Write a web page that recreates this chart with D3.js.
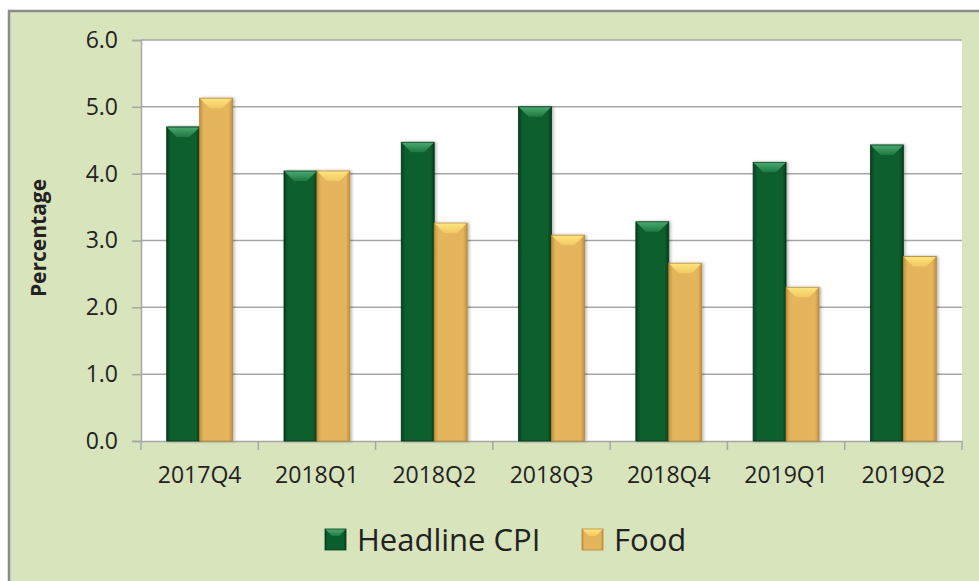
<!DOCTYPE html>
<html>
<head>
  <meta charset="UTF-8">
  <title>Headline CPI vs Food</title>
  <style>
    body { margin: 0; background: #fff; }
    svg { display: block; }
    text { font-family: "Open Sans", sans-serif; fill: #222; }
  </style>
  <script src="https://d3js.org/d3.v7.min.js"></script>
</head>
<body>
  <svg id="chart" width="979" height="581"></svg>
  <script>
    const quarters = ['2017Q4', '2018Q1', '2018Q2', '2018Q3', '2018Q4', '2019Q1', '2019Q2'];
    const headlineCPI = [4.70, 4.04, 4.47, 5.00, 3.28, 4.17, 4.43];
    const food = [5.13, 4.04, 3.26, 3.08, 2.66, 2.30, 2.76];
    const yTicks = [0, 1, 2, 3, 4, 5, 6];
    const seriesNames = ['Headline CPI', 'Food'];

    const W = 979, H = 581;
    const plot = { left: 141, right: 962, top: 40, bottom: 441 };

    const svg = d3.select('#chart');

    // frame
    svg.append('rect')
      .attr('x', 9).attr('y', 11)
      .attr('width', W + 20).attr('height', H + 20)
      .attr('fill', '#d8e4bc')
      .attr('stroke', '#8c8c8c')
      .attr('stroke-width', 2.5);

    svg.append('rect')
      .attr('x', plot.left).attr('y', plot.top)
      .attr('width', plot.right - plot.left).attr('height', plot.bottom - plot.top)
      .attr('fill', '#fff');

    const x = d3.scaleBand().domain(quarters).range([plot.left, plot.right]);
    const xInner = d3.scaleBand().domain(seriesNames).range([0, x.bandwidth()]).paddingOuter(0.78).paddingInner(0);
    const y = d3.scaleLinear().domain([0, 6]).range([plot.bottom, plot.top]);

    // gridlines
    svg.append('g')
      .selectAll('line')
      .data(yTicks.slice(1))
      .join('line')
      .attr('x1', plot.left).attr('x2', plot.right)
      .attr('y1', d => y(d)).attr('y2', d => y(d))
      .attr('stroke', '#a6a6a6')
      .attr('stroke-width', 1.5);

    // y axis
    const yAxis = svg.append('g')
      .attr('transform', `translate(${plot.left},0)`)
      .call(d3.axisLeft(y).tickValues(yTicks).tickFormat(d3.format('.1f')).tickSize(9).tickPadding(14));
    yAxis.select('.domain').attr('stroke', '#a6a6a6').attr('stroke-width', 1.5);
    yAxis.selectAll('.tick line').attr('stroke', '#a6a6a6').attr('stroke-width', 1.5);
    yAxis.selectAll('.tick text').style('font-size', '23px').attr('fill', '#222');

    // x axis
    const xAxis = svg.append('g')
      .attr('transform', `translate(0,${plot.bottom})`)
      .call(d3.axisBottom(x).tickSize(0).tickPadding(26));
    xAxis.select('.domain').attr('stroke', '#a6a6a6').attr('stroke-width', 1.5);
    xAxis.selectAll('.tick text').style('font-size', '23px').attr('fill', '#222');
    xAxis.append('g')
      .selectAll('line')
      .data(quarters.concat(['end']))
      .join('line')
      .attr('x1', (d, i) => plot.left + i * x.step())
      .attr('x2', (d, i) => plot.left + i * x.step())
      .attr('y1', 0).attr('y2', 9)
      .attr('stroke', '#a6a6a6')
      .attr('stroke-width', 1.5);

    // gradients
    const defs = svg.append('defs');
    const styles = {
      'Headline CPI': { side: ['#063d1c', '#0a5e2d', '#0a5e2d', '#063d1c'], top: ['#48a86e', '#1f7842'], edge: '#063a1b' },
      'Food': { side: ['#c0903d', '#e4b55c', '#e4b55c', '#c0903d'], top: ['#fde47e', '#f2c862'], edge: '#b8873a' }
    };
    seriesNames.forEach((s, i) => {
      const g = defs.append('linearGradient').attr('id', 'side' + i);
      [0, 0.12, 0.88, 1].forEach((o, j) => g.append('stop').attr('offset', o).attr('stop-color', styles[s].side[j]));
      const t = defs.append('linearGradient').attr('id', 'top' + i).attr('x1', 0).attr('y1', 0).attr('x2', 0).attr('y2', 1);
      t.append('stop').attr('offset', 0).attr('stop-color', styles[s].top[0]);
      t.append('stop').attr('offset', 1).attr('stop-color', styles[s].top[1]);
    });
    const shadow = defs.append('filter').attr('id', 'shadow').attr('x', '-20%').attr('y', '-10%').attr('width', '140%').attr('height', '120%');
    shadow.append('feDropShadow').attr('dx', 1.5).attr('dy', 0).attr('stdDeviation', 1.5).attr('flood-color', '#000').attr('flood-opacity', 0.3);

    const rows = quarters.map((q, i) => ({ q, values: [headlineCPI[i], food[i]] }));

    const groups = svg.append('g')
      .selectAll('g')
      .data(rows)
      .join('g')
      .attr('transform', d => `translate(${x(d.q)},0)`);

    const bars = groups.selectAll('g')
      .data(d => d.values.map((v, i) => ({ name: seriesNames[i], idx: i, v })))
      .join('g')
      .attr('filter', 'url(#shadow)');

    bars.append('rect')
      .attr('x', d => xInner(d.name))
      .attr('y', d => y(d.v))
      .attr('width', xInner.bandwidth())
      .attr('height', d => y(0) - y(d.v))
      .attr('fill', d => `url(#side${d.idx})`)
      .attr('stroke', d => styles[d.name].edge)
      .attr('stroke-width', 0.8);

    const bevel = 10;
    bars.append('polygon')
      .attr('points', d => {
        const x0 = xInner(d.name), x1 = x0 + xInner.bandwidth(), yt = y(d.v);
        return [[x0 + 0.5, yt + 0.5], [x1 - 0.5, yt + 0.5], [x1 - bevel, yt + bevel], [x0 + bevel, yt + bevel]].map(p => p.join(',')).join(' ');
      })
      .attr('fill', d => `url(#top${d.idx})`);

    // y title
    svg.append('text')
      .attr('transform', 'translate(46,238) rotate(-90)')
      .attr('text-anchor', 'middle')
      .style('font-size', '21px')
      .style('font-weight', 'bold')
      .attr('fill', '#000')
      .text('Percentage');

    // legend
    const legendX = [325, 582];
    const legend = svg.append('g')
      .selectAll('g')
      .data(seriesNames)
      .join('g')
      .attr('transform', (d, i) => `translate(${legendX[i]},529)`);
    legend.append('rect')
      .attr('width', 21).attr('height', 21)
      .attr('fill', (d, i) => `url(#side${i})`)
      .attr('stroke', d => styles[d].edge)
      .attr('stroke-width', 0.8);
    legend.append('polygon')
      .attr('points', '0.5,0.5 20.5,0.5 14,7 7,7')
      .attr('fill', (d, i) => `url(#top${i})`);
    legend.append('text')
      .attr('x', 32).attr('y', 21.5)
      .style('font-size', '31px')
      .attr('fill', '#111')
      .text(d => d);
  </script>
</body>
</html>
